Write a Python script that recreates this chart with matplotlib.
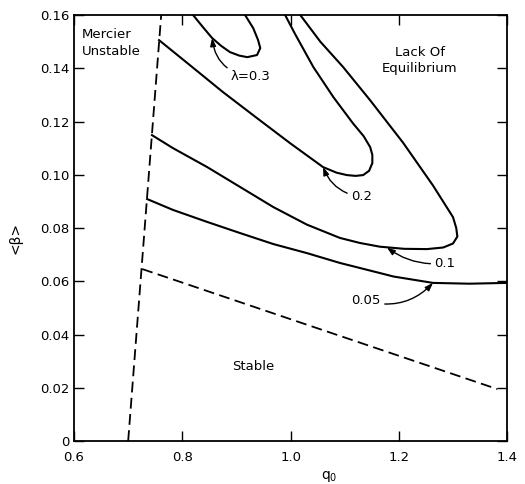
import matplotlib
matplotlib.use("Agg")
import matplotlib.pyplot as plt

plt.rcParams["font.family"] = "DejaVu Sans"
plt.rcParams["font.size"] = 9.5

# Mercier stability limit (dashed) and the stable region boundary (dashed)
mercier_q = [0.700, 0.761]
mercier_beta = [0.0, 0.160]
stable_q = [0.726, 1.382]
stable_beta = [0.0646, 0.0195]

# equilibrium limit curves, one per lambda
lam005_q = [0.735, 0.783, 0.846, 0.907, 0.968, 1.030, 1.091, 1.165, 1.190, 1.263, 1.330, 1.400]
lam005_beta = [0.0909, 0.0868, 0.0823, 0.0781, 0.0740, 0.0706, 0.0669, 0.0631, 0.0618, 0.0594, 0.0591, 0.0594]

lam01_q = [0.744, 0.783, 0.846, 0.907, 0.968, 1.030, 1.091, 1.128, 1.165, 1.210, 1.252, 1.282, 1.300,
           1.308, 1.306, 1.300, 1.263, 1.208, 1.147, 1.097, 1.055, 1.018]
lam01_beta = [0.1149, 0.1100, 0.1029, 0.0954, 0.0879, 0.0813, 0.0763, 0.0744, 0.0730, 0.0722, 0.0721, 0.0727, 0.0742,
              0.0768, 0.0800, 0.0841, 0.0960, 0.1120, 0.1280, 0.1405, 0.1500, 0.1600]

lam02_q = [0.757, 0.814, 0.875, 0.938, 0.999, 1.060, 1.085, 1.104, 1.120, 1.134, 1.145, 1.151,
           1.151, 1.147, 1.135, 1.115, 1.079, 1.042, 1.008, 0.990]
lam02_beta = [0.1506, 0.1412, 0.1311, 0.1213, 0.1119, 0.1029, 0.1008, 0.0999, 0.0996, 0.0999, 0.1015, 0.1044,
              0.1075, 0.1104, 0.1145, 0.1194, 0.1292, 0.1405, 0.1530, 0.1600]

lam03_q = [0.820, 0.838, 0.855, 0.872, 0.888, 0.905, 0.920, 0.938, 0.944, 0.940, 0.931, 0.916]
lam03_beta = [0.1600, 0.1555, 0.1514, 0.1484, 0.1461, 0.1448, 0.1442, 0.1450, 0.1476, 0.1506, 0.1551, 0.1600]

x_ticks = [0.6, 0.8, 1.0, 1.2, 1.4]
x_labels = ["0.6", "0.8", "1.0", "1.2", "1.4"]
y_ticks = [0, 0.02, 0.04, 0.06, 0.08, 0.10, 0.12, 0.14, 0.16]
y_labels = ["0", "0.02", "0.04", "0.06", "0.08", "0.10", "0.12", "0.14", "0.16"]

fig = plt.figure(figsize=(5.25, 4.84), dpi=100)
ax = fig.add_axes([0.141, 0.0888, 0.825, 0.880])

dash = (0, (6, 3))
ax.plot(mercier_q, mercier_beta, color="black", lw=1.3, linestyle=dash)
ax.plot(stable_q, stable_beta, color="black", lw=1.3, linestyle=dash)

for q, b in [(lam005_q, lam005_beta), (lam01_q, lam01_beta),
             (lam02_q, lam02_beta), (lam03_q, lam03_beta)]:
    ax.plot(q, b, color="black", lw=1.5, solid_joinstyle="round")

ax.set_xlim(0.6, 1.4)
ax.set_ylim(0, 0.16)
ax.set_xticks(x_ticks, x_labels)
ax.set_yticks(y_ticks, y_labels)
ax.tick_params(direction="in", length=7, width=1, top=True, right=True,
               labelsize=9.5, pad=3)
ax.tick_params(axis="x", pad=7)
for s in ax.spines.values():
    s.set_linewidth(1.3)

ax.set_xlabel("q$_0$", fontsize=10)
ax.xaxis.set_label_coords(0.59, -0.065)
ax.set_ylabel("<β>", fontsize=10)
ax.yaxis.set_label_coords(-0.12, 0.477)

# region labels
ax.text(0.615, 0.155, "Mercier\nUnstable", ha="left", va="top", linespacing=1.35)
ax.text(1.239, 0.143, "Lack Of\nEquilibrium", ha="center", va="center", linespacing=1.35)
ax.text(0.931, 0.028, "Stable", ha="center", va="center")

# curve labels with curved arrows
arrow = dict(arrowstyle="-|>,head_length=0.5,head_width=0.18", color="black", lw=1.0,
             shrinkA=1, shrinkB=0)
ax.annotate("λ=0.3", xy=(0.855, 0.1514), xytext=(0.890, 0.137),
            ha="left", va="center",
            arrowprops=dict(arrow, connectionstyle="arc3,rad=-0.4"))
ax.annotate("0.2", xy=(1.060, 0.1029), xytext=(1.112, 0.0917),
            ha="left", va="center",
            arrowprops=dict(arrow, connectionstyle="arc3,rad=-0.3"))
ax.annotate("0.1", xy=(1.178, 0.0727), xytext=(1.266, 0.0668),
            ha="left", va="center",
            arrowprops=dict(arrow, connectionstyle="arc3,rad=-0.2"))
ax.annotate("0.05", xy=(1.263, 0.0594), xytext=(1.112, 0.0526),
            ha="left", va="center",
            arrowprops=dict(arrow, connectionstyle="arc3,rad=0.3"))

fig.savefig("out.png", dpi=100)
